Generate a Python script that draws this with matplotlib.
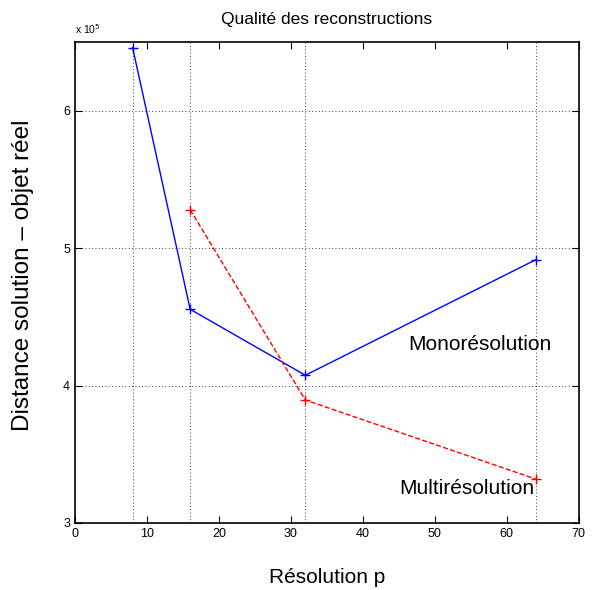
import matplotlib.pyplot as plt
from matplotlib.ticker import FuncFormatter

plt.rcParams['font.family'] = ['Liberation Sans', 'DejaVu Sans']

res_mono = [8, 16, 32, 64]
dist_mono = [6.46e5, 4.555e5, 4.075e5, 4.915e5]
res_multi = [16, 32, 64]
dist_multi = [5.28e5, 3.895e5, 3.32e5]
grid_x = [8, 16, 32, 64]

fig = plt.figure(figsize=(5.93, 5.90), dpi=100)
ax = fig.add_axes([0.1265, 0.1136, 0.8495, 0.8152])

for gx in grid_x:
    ax.axvline(gx, color='k', linestyle=(0, (1, 3)), linewidth=0.6, zorder=0)
for gy in [4e5, 5e5, 6e5]:
    ax.axhline(gy, color='k', linestyle=(0, (1, 3)), linewidth=0.6, zorder=0)

ax.plot(res_mono, dist_mono, 'b-+', linewidth=1, markersize=7)
ax.plot(res_multi, dist_multi, 'r--+', linewidth=1, markersize=7)

ax.set_xlim(0, 70)
ax.set_ylim(3e5, 6.5e5)
ax.set_xticks(range(0, 71, 10))
ax.set_yticks([3e5, 4e5, 5e5, 6e5])
ax.yaxis.set_major_formatter(FuncFormatter(lambda v, p: '%d' % round(v / 1e5)))
ax.tick_params(direction='in', top=True, right=True, labelsize=9, length=5)
for s in ax.spines.values():
    s.set_linewidth(1.2)

ax.text(0.0, 1.012, 'x 10$^{5}$', transform=ax.transAxes, fontsize=7.5, ha='left', va='bottom')
ax.text(46.3, 4.3e5, 'Monorésolution', fontsize=15, ha='left', va='center')
ax.text(45.0, 3.25e5, 'Multirésolution', fontsize=15, ha='left', va='center')

ax.set_title('Qualité des reconstructions', fontsize=12.5, pad=13)
ax.set_xlabel('Résolution p', fontsize=15, labelpad=20)
ax.set_ylabel('Distance solution – objet réel', fontsize=17.5)
ax.yaxis.set_label_coords(-0.082, 0.515)

fig.savefig('out.png', dpi=100)
